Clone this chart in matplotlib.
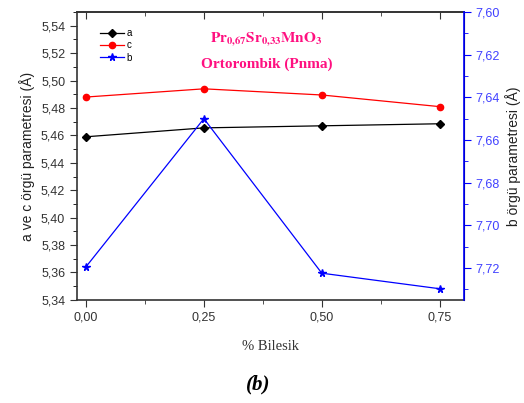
import matplotlib
matplotlib.use("Agg")
import matplotlib.pyplot as plt
from matplotlib.ticker import MultipleLocator, FuncFormatter

# data
x = [0.00, 0.25, 0.50, 0.75]
a_vals = [5.459, 5.4655, 5.467, 5.4685]
c_vals = [5.488, 5.494, 5.4895, 5.481]
b_vals = [7.7195, 7.6500, 7.7225, 7.7298]

xticks = [0.00, 0.25, 0.50, 0.75]

plt.rcParams['font.family'] = ['Liberation Sans', 'DejaVu Sans']
plt.rcParams['mathtext.fontset'] = 'stix'

comma = FuncFormatter(lambda v, p: ("%.2f" % v).replace(".", ","))

fig = plt.figure(figsize=(5.24, 4.03), dpi=100)
ax = fig.add_axes([0.147, 0.256, 0.738, 0.714])
ax2 = ax.twinx()

la, = ax.plot(x, a_vals, color='black', marker='D', markersize=4, lw=0.9)
lc, = ax.plot(x, c_vals, color='red', marker='o', markersize=4.5, lw=0.9)
lb, = ax2.plot(x, b_vals, color='blue', marker='*', markersize=5.5, lw=0.9)

ax.set_xlim(-0.019, 0.801)
ax.set_ylim(5.34, 5.55)
ax2.set_ylim(7.735, 7.60)

ax.set_xticks(xticks)
ax.xaxis.set_minor_locator(MultipleLocator(0.125))
ax.yaxis.set_major_locator(MultipleLocator(0.02))
ax.yaxis.set_minor_locator(MultipleLocator(0.01))
ax2.yaxis.set_major_locator(MultipleLocator(0.02))
ax2.yaxis.set_minor_locator(MultipleLocator(0.01))
ax.xaxis.set_major_formatter(comma)
ax.yaxis.set_major_formatter(comma)
ax2.yaxis.set_major_formatter(comma)

ax.tick_params(axis='x', which='both', direction='out', labelsize=9, colors='#333333')
ax.tick_params(axis='x', which='major', length=5)
ax.tick_params(axis='x', which='minor', length=3)
ax.tick_params(axis='y', which='major', length=5, labelsize=9, colors='#333333')
ax.tick_params(axis='y', which='minor', length=3)
ax2.tick_params(axis='y', which='major', length=5, labelsize=9, colors='blue')
ax2.tick_params(axis='y', which='minor', length=3, colors='blue')
ax2.tick_params(axis='y', which='both', labelcolor='#4040ff')

# top axis: ticks pointing inward, no labels
top = ax.secondary_xaxis('top')
top.set_xticks(xticks)
top.xaxis.set_minor_locator(MultipleLocator(0.125))
top.tick_params(axis='x', which='both', direction='in', labeltop=False, colors='#333333')
top.tick_params(axis='x', which='major', length=5)
top.tick_params(axis='x', which='minor', length=3)
top.spines['top'].set_linewidth(1.2)
top.spines['top'].set_color('#333333')

for s in ['left', 'bottom', 'top']:
    ax.spines[s].set_linewidth(1.2)
    ax.spines[s].set_color('#333333')
ax2.spines['right'].set_color('blue')
ax2.spines['right'].set_linewidth(1.2)
ax2.spines['left'].set_visible(False)
ax2.spines['top'].set_visible(False)
ax2.spines['bottom'].set_visible(False)

ax.set_ylabel('a ve c örgü parametresi (Å)', fontsize=10, color='#222222', labelpad=4)
ax2.set_ylabel('b örgü parametresi (Å)', fontsize=10, color='#222222', labelpad=4)
ax.set_xlabel('% Bilesik', fontsize=10.5, family='Liberation Serif', color='#333333', labelpad=12)

ax.legend([la, lc, lb], ['a', 'c', 'b'], loc='upper left', bbox_to_anchor=(0.045, 0.965),
          fontsize=7, frameon=False, handlelength=2.4, handletextpad=0.3,
          labelspacing=0.25, borderaxespad=0.2)

ax.text(0.49, 0.905, r'$\mathbf{Pr_{0{,}67}Sr_{0{,}33}MnO_3}$', transform=ax.transAxes,
        ha='center', va='center', color='#ff1080', fontsize=11)
ax.text(0.49, 0.82, 'Ortorombik (Pnma)', transform=ax.transAxes, ha='center', va='center',
        color='#ff1080', fontsize=11, family='Liberation Serif', weight='bold')

fig.text(0.492, 0.045, '(b)', ha='center', va='center', fontsize=15,
         family='Liberation Serif', weight='bold', style='italic')

fig.savefig('out.png', dpi=100)
